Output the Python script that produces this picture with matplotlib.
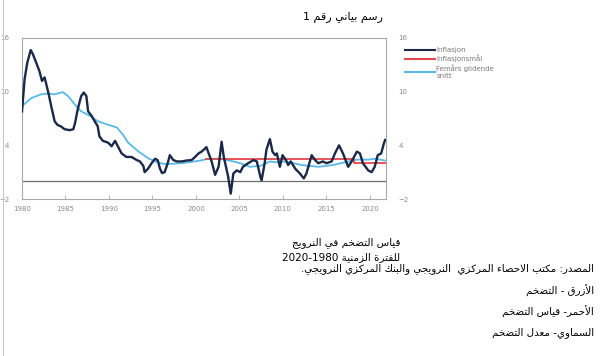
import re
import matplotlib
matplotlib.use("Agg")
import matplotlib.pyplot as plt
from matplotlib.lines import Line2D

# ---------------- data ----------------
infl_years = [1980.0, 1980.3, 1980.6, 1981.0, 1981.25, 1981.65, 1982.0, 1982.3, 1982.6, 1982.8,
              1983.07, 1983.4, 1983.75, 1984.06, 1984.5, 1984.9, 1985.5, 1985.9, 1986.1, 1986.4,
              1986.8, 1987.1, 1987.4, 1987.6, 1988.0, 1988.35, 1988.7, 1988.9, 1989.3, 1989.9,
              1990.3, 1990.7, 1991.07, 1991.45, 1992.0, 1992.6, 1993.2, 1993.56, 1993.95, 1994.1,
              1994.5, 1994.9, 1995.3, 1995.6, 1995.86, 1996.1, 1996.4, 1996.75, 1997.0, 1997.4,
              1997.8, 1998.35, 1998.9, 1999.5, 1999.9, 2000.3, 2000.65, 2001.0, 2001.2, 2001.8,
              2002.2, 2002.6, 2002.95, 2003.2, 2003.7, 2004.0, 2004.3, 2004.7, 2005.1, 2005.4,
              2006.0, 2006.6, 2007.0, 2007.4, 2007.55, 2007.9, 2008.1, 2008.5, 2008.8, 2009.1,
              2009.3, 2009.65, 2009.95, 2010.35, 2010.6, 2010.9, 2011.4, 2011.95, 2012.4, 2012.7,
              2013.3, 2013.7, 2014.07, 2014.6, 2015.0, 2015.6, 2015.98, 2016.45, 2016.9, 2017.5,
              2017.9, 2018.5, 2018.85, 2019.2, 2019.8, 2020.2, 2020.55, 2020.9, 2021.3, 2021.6,
              2021.75]
infl_values = [7.8, 11.4, 13.2, 14.65, 14.2, 13.2, 12.3, 11.2, 11.6, 10.8,
               9.7, 8.2, 6.7, 6.3, 6.1, 5.8, 5.7, 5.8, 6.5, 8.0,
               9.5, 9.9, 9.5, 7.8, 7.3, 6.7, 6.15, 5.0, 4.5, 4.3,
               3.9, 4.5, 3.8, 3.1, 2.7, 2.7, 2.35, 2.2, 1.7, 1.0,
               1.4, 2.0, 2.5, 2.35, 1.4, 0.9, 1.0, 2.0, 2.9, 2.35,
               2.2, 2.2, 2.3, 2.35, 2.7, 3.1, 3.3, 3.6, 3.8, 2.2,
               0.7, 1.6, 4.4, 2.7, 0.5, -1.4, 0.85, 1.2, 1.0, 1.6,
               2.0, 2.35, 2.2, 0.5, 0.1, 2.0, 3.5, 4.7, 3.3, 2.9,
               3.1, 1.6, 2.9, 2.35, 1.8, 2.2, 1.4, 0.85, 0.3, 0.85,
               2.9, 2.35, 2.0, 2.2, 2.0, 2.2, 3.1, 4.0, 3.1, 1.6,
               2.2, 3.3, 3.1, 2.0, 1.2, 1.0, 1.6, 2.9, 3.1, 4.2,
               4.6]

ma_years = [1980.0, 1981.1, 1982.2, 1983.0, 1983.75, 1984.7, 1985.3, 1986.05, 1986.8, 1987.8,
            1988.7, 1989.9, 1990.9, 1991.6, 1992.2, 1992.8, 1993.4, 1994.0, 1994.5, 1995.1,
            1995.7, 1996.5, 1997.4, 1998.35, 1999.5, 2000.5, 2001.4, 2002.5, 2003.3, 2004.3,
            2005.1, 2006.2, 2007.4, 2008.5, 2009.1, 2010.2, 2011.2, 2012.1, 2013.1, 2014.07,
            2015.0, 2016.0, 2017.3, 2018.5, 2019.8, 2020.6, 2021.75]
ma_values = [8.4, 9.3, 9.7, 9.8, 9.7, 9.95, 9.5, 8.6, 7.8, 7.3,
             6.7, 6.3, 6.0, 5.2, 4.3, 3.8, 3.3, 2.9, 2.55, 2.3,
             2.05, 1.9, 1.95, 2.0, 2.15, 2.3, 2.5, 2.5, 2.4, 2.2,
             2.0, 1.6, 1.7, 2.2, 2.1, 2.2, 2.0, 1.8, 1.7, 1.6,
             1.7, 1.85, 2.15, 2.4, 2.4, 2.5, 2.3]

target_years = [2001.2, 2018.2, 2021.8]
target_values = [2.5, 2.0, 2.0]

x_ticks = [1980, 1985, 1990, 1995, 2000, 2005, 2010, 2015, 2020]
y_ticks = [-2, 4, 10, 16]
legend_labels = ["Inflasjon", "Inflasjonsmål", "Femårs glidende\nsnitt"]

title_text = "رسم بياني رقم 1"
caption_main = ["قياس التضخم في النرويج", "للفترة الزمنية 1980-2020"]
caption_notes = ["المصدر: مكتب الاحصاء المركزي  النرويجي والبنك المركزي النرويجي.",
                 "الأزرق - التضخم",
                 "الأحمر- قياس التضخم",
                 "السماوي- معدل التضخم"]

# ---------------- minimal Arabic shaping (matplotlib does no shaping) ----------------
_DUAL = {'ئ': 0xFE89, 'ب': 0xFE8F, 'ت': 0xFE95, 'ث': 0xFE99, 'ج': 0xFE9D, 'ح': 0xFEA1,
         'خ': 0xFEA5, 'س': 0xFEB1, 'ش': 0xFEB5, 'ص': 0xFEB9, 'ض': 0xFEBD, 'ط': 0xFEC1,
         'ظ': 0xFEC5, 'ع': 0xFEC9, 'غ': 0xFECD, 'ف': 0xFED1, 'ق': 0xFED5, 'ك': 0xFED9,
         'ل': 0xFEDD, 'م': 0xFEE1, 'ن': 0xFEE5, 'ه': 0xFEE9, 'ي': 0xFEF1}
_RIGHT = {'آ': 0xFE81, 'أ': 0xFE83, 'ؤ': 0xFE85, 'إ': 0xFE87, 'ا': 0xFE8D, 'ة': 0xFE93,
          'د': 0xFEA9, 'ذ': 0xFEAB, 'ر': 0xFEAD, 'ز': 0xFEAF, 'و': 0xFEED, 'ى': 0xFEEF}
_LAMALEF = {'آ': 0xFEF5, 'أ': 0xFEF7, 'إ': 0xFEF9, 'ا': 0xFEFB}


def _shape(s):
    items = []
    i = 0
    while i < len(s):
        c = s[i]
        if c == 'ل' and i + 1 < len(s) and s[i + 1] in _LAMALEF:
            items.append(('LA', s[i + 1]))
            i += 2
        else:
            items.append(('C', c))
            i += 1

    def joins_next(it):
        return it[0] == 'C' and it[1] in _DUAL

    def joins_prev(it):
        return it[0] == 'LA' or it[1] in _DUAL or it[1] in _RIGHT

    out = []
    for k, it in enumerate(items):
        t, c = it
        prev = items[k - 1] if k > 0 else None
        nxt = items[k + 1] if k + 1 < len(items) else None
        p = prev is not None and joins_next(prev) and joins_prev(it)
        if t == 'LA':
            out.append(chr(_LAMALEF[c] + (1 if p else 0)))
        elif c in _DUAL:
            n = nxt is not None and joins_prev(nxt)
            form = 3 if (p and n) else 1 if p else 2 if n else 0
            out.append(chr(_DUAL[c] + form))
        elif c in _RIGHT:
            out.append(chr(_RIGHT[c] + (1 if p else 0)))
        elif c == 'ء':
            out.append(chr(0xFE80))
        else:
            out.append(c)
    return ''.join(out)


def ar(s):
    s = _shape(s)
    parts = re.split(r'([0-9A-Za-z]+)', s)
    out = []
    for p in reversed(parts):
        if re.fullmatch(r'[0-9A-Za-z]+', p):
            out.append(p)
        else:
            out.append(p[::-1])
    return ''.join(out)


# ---------------- figure ----------------
W, H = 600, 356
fig = plt.figure(figsize=(W / 100, H / 100), dpi=100)
fig.patch.set_facecolor("white")


def fx(px):
    return px / W


def fy(py):
    return 1 - py / H


ax = fig.add_axes([fx(22), fy(199), fx(386) - fx(22), fy(38) - fy(199)])

navy = "#1a2947"
red = "#e5464d"
sky = "#58b9e5"
grid_gray = "#a8a8a8"
tick_gray = "#8a8a8a"

ax.plot(ma_years, ma_values, color=sky, lw=1.3, solid_capstyle="round", zorder=3)
ax.plot(target_years, target_values, color=red, lw=1.3, drawstyle="steps-post", zorder=3)
ax.plot(infl_years, infl_values, color=navy, lw=1.7, solid_joinstyle="round", zorder=4)
ax.axhline(0, color="#6e6e6e", lw=0.9, zorder=2)

ax.set_xlim(1980, 2021.85)
ax.set_ylim(-2, 16)
ax.set_xticks(x_ticks)
ax.set_yticks(y_ticks)
ax.set_xticklabels([str(t) for t in x_ticks])
ax.set_yticklabels(["\u22122" if t < 0 else str(t) for t in y_ticks])

for sp in ax.spines.values():
    sp.set_color(grid_gray)
    sp.set_linewidth(0.8)

ax.tick_params(axis="x", direction="in", length=3, width=0.6, color=grid_gray,
               labelsize=5, labelcolor=tick_gray, pad=5)
ax.tick_params(axis="y", length=0, labelsize=5, labelcolor=tick_gray, pad=9,
               left=True, right=True, labelleft=True, labelright=True)

# legend
handles = [Line2D([], [], color=navy, lw=1.5),
           Line2D([], [], color=red, lw=1.5),
           Line2D([], [], color=sky, lw=1.5)]
leg = fig.legend(handles, legend_labels, loc="upper left",
                 bbox_to_anchor=(fx(405), fy(47)), frameon=False,
                 fontsize=5, handlelength=4.3, handletextpad=0.2,
                 labelspacing=0.25, borderaxespad=0, borderpad=0)
for t in leg.get_texts():
    t.set_color("#7a7a7a")

# title
fig.text(fx(343), fy(17), ar(title_text), ha="center", va="center",
         fontsize=8, family="DejaVu Sans", color="black")

# captions
fig.text(fx(400), fy(243), ar(caption_main[0]), ha="right", va="center",
         fontsize=7.5, family="DejaVu Sans", color="black")
fig.text(fx(400), fy(257), ar(caption_main[1]), ha="right", va="center",
         fontsize=7.5, family="DejaVu Sans", color="black")

note_y = [269, 291, 312, 333]
for txt, yy in zip(caption_notes, note_y):
    fig.text(fx(594), fy(yy), ar(txt), ha="right", va="center",
             fontsize=7.4, family="DejaVu Sans", color="black")

# page border line at the very left
fig.add_artist(Line2D([fx(2.5), fx(2.5)], [0, 1], color="#c8c8c8", lw=0.8))

fig.savefig("out.png", dpi=100, facecolor="white")
